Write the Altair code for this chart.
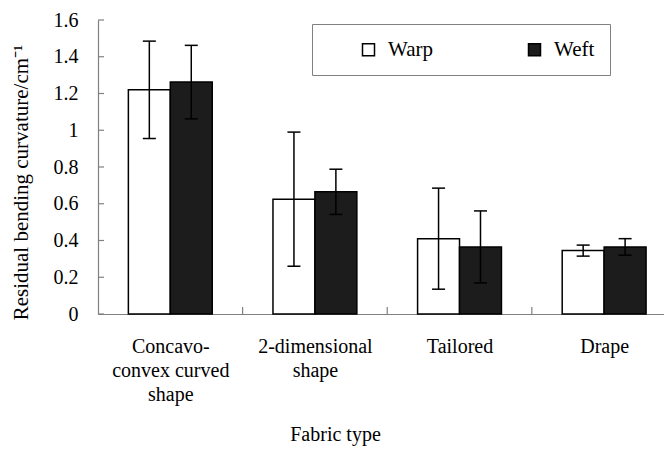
import altair as alt
import pandas as pd

categories = ["Concavo-|convex curved|shape", "2-dimensional|shape", "Tailored", "Drape"]
series = ["Warp", "Weft"]
warp_mean = [1.22, 0.625, 0.41, 0.345]
warp_err = [0.265, 0.365, 0.275, 0.03]
weft_mean = [1.262, 0.665, 0.365, 0.365]
weft_err = [0.2, 0.123, 0.196, 0.045]
y_ticks = [0, 0.2, 0.4, 0.6, 0.8, 1.0, 1.2, 1.4, 1.6]

FONT = "Liberation Serif"
W, H = 566, 294
BAR = 0.29
CAP = 0.045

rows = []
for i, cat in enumerate(categories):
    for s, means, errs in (("Warp", warp_mean, warp_err), ("Weft", weft_mean, weft_err)):
        v = means[i]
        e = errs[i]
        x0 = i + 0.5 - BAR if s == "Warp" else i + 0.5
        x1 = x0 + BAR
        xc = (x0 + x1) / 2
        rows.append(dict(cat=cat, series=s, value=v, base=0.0, lo=v - e, hi=v + e,
                         x0=x0, x1=x1, xc=xc, c0=xc - CAP, c1=xc + CAP))
df = pd.DataFrame(rows)

xscale = alt.Scale(domain=[0, 3.914], nice=False, zero=False)
yscale = alt.Scale(domain=[0, 1.6], nice=False)

cat_array = "[" + ",".join("'" + c + "'" for c in categories) + "]"
label_expr = "split(" + cat_array + "[floor(datum.value)], '|')"

xaxis = alt.Axis(title="Fabric type", values=[i + 0.5 for i in range(len(categories))],
                 labelExpr=label_expr, labelFont=FONT, labelFontSize=20,
                 labelFontWeight="normal", labelColor="black", labelBaseline="top",
                 labelPadding=22, labelLineHeight=24, labelOverlap=False, labelFlush=False,
                 labelBound=False,
                 ticks=False, grid=False,
                 titleX=237, titleY=126, titleBaseline="alphabetic",
                 titleFont=FONT, titleFontSize=20, titleFontWeight="normal",
                 titleColor="black", domainColor="#808080", domainWidth=1.2)
yaxis = alt.Axis(title="Residual bending curvature/cm⁻¹", values=y_ticks,
                 format="~g", ticks=False, grid=False, labelPadding=20,
                 labelOverlap=False, labelFont=FONT, labelFontSize=20,
                 labelFontWeight="normal", labelColor="black",
                 titleFont=FONT, titleFontSize=21, titleFontWeight="normal",
                 titleColor="black", titlePadding=22, titleY=162,
                 domainColor="#808080", domainWidth=1.2)

bars = alt.Chart(df).mark_bar(stroke="black", strokeWidth=1.5).encode(
    x=alt.X("x0:Q", scale=xscale, axis=xaxis),
    x2="x1:Q",
    y=alt.Y("value:Q", scale=yscale, axis=yaxis),
    y2="base:Q",
    fill=alt.Fill("series:N", scale=alt.Scale(domain=series, range=["white", "#1c1c1c"]),
                  legend=alt.Legend(title=None, orient="none", legendX=214, legendY=4,
                                    direction="horizontal", strokeColor="#808080",
                                    padding=15, symbolType="square", symbolSize=144,
                                    symbolStrokeColor="black", symbolStrokeWidth=1.5,
                                    symbolOffset=31, labelOffset=9, columnPadding=60,
                                    labelFont=FONT, labelFontSize=21,
                                    labelFontWeight="normal", labelColor="black",
                                    labelExpr="datum.label == 'Weft' ? 'Weft\u00a0\u00a0\u00a0\u00a0\u00a0\u00a0' : datum.label")),
)

err = alt.Chart(df).mark_rule(color="black", strokeWidth=1.5).encode(
    x=alt.X("xc:Q", scale=xscale, axis=xaxis), y=alt.Y("lo:Q", scale=yscale, axis=yaxis), y2="hi:Q")
cap_hi = alt.Chart(df).mark_rule(color="black", strokeWidth=1.5).encode(
    x=alt.X("c0:Q", scale=xscale, axis=xaxis), x2="c1:Q", y=alt.Y("hi:Q", scale=yscale, axis=yaxis))
cap_lo = alt.Chart(df).mark_rule(color="black", strokeWidth=1.5).encode(
    x=alt.X("c0:Q", scale=xscale, axis=xaxis), x2="c1:Q", y=alt.Y("lo:Q", scale=yscale, axis=yaxis))

ytick_df = pd.DataFrame({"t": y_ticks})
yt = alt.Chart(ytick_df).mark_rule(color="#808080", strokeWidth=1.2).encode(
    y=alt.Y("t:Q", scale=yscale, axis=yaxis), x=alt.value(0), x2=alt.value(6))

xtick_df = pd.DataFrame({"b": [1, 2, 3]})
xt = alt.Chart(xtick_df).mark_rule(color="#808080", strokeWidth=1.2).encode(
    x=alt.X("b:Q", scale=xscale, axis=xaxis), y=alt.value(H), y2=alt.value(H - 7))

chart = alt.layer(bars, err, cap_hi, cap_lo, yt, xt).properties(
    width=W, height=H,
    autosize=alt.AutoSizeParams(type="none"),
    padding={"left": 90, "top": 12, "right": 0, "bottom": 132},
).configure(background="white", font=FONT).configure_view(stroke=None)

chart.save("out.html", embed_options={"renderer": "svg", "actions": False})
